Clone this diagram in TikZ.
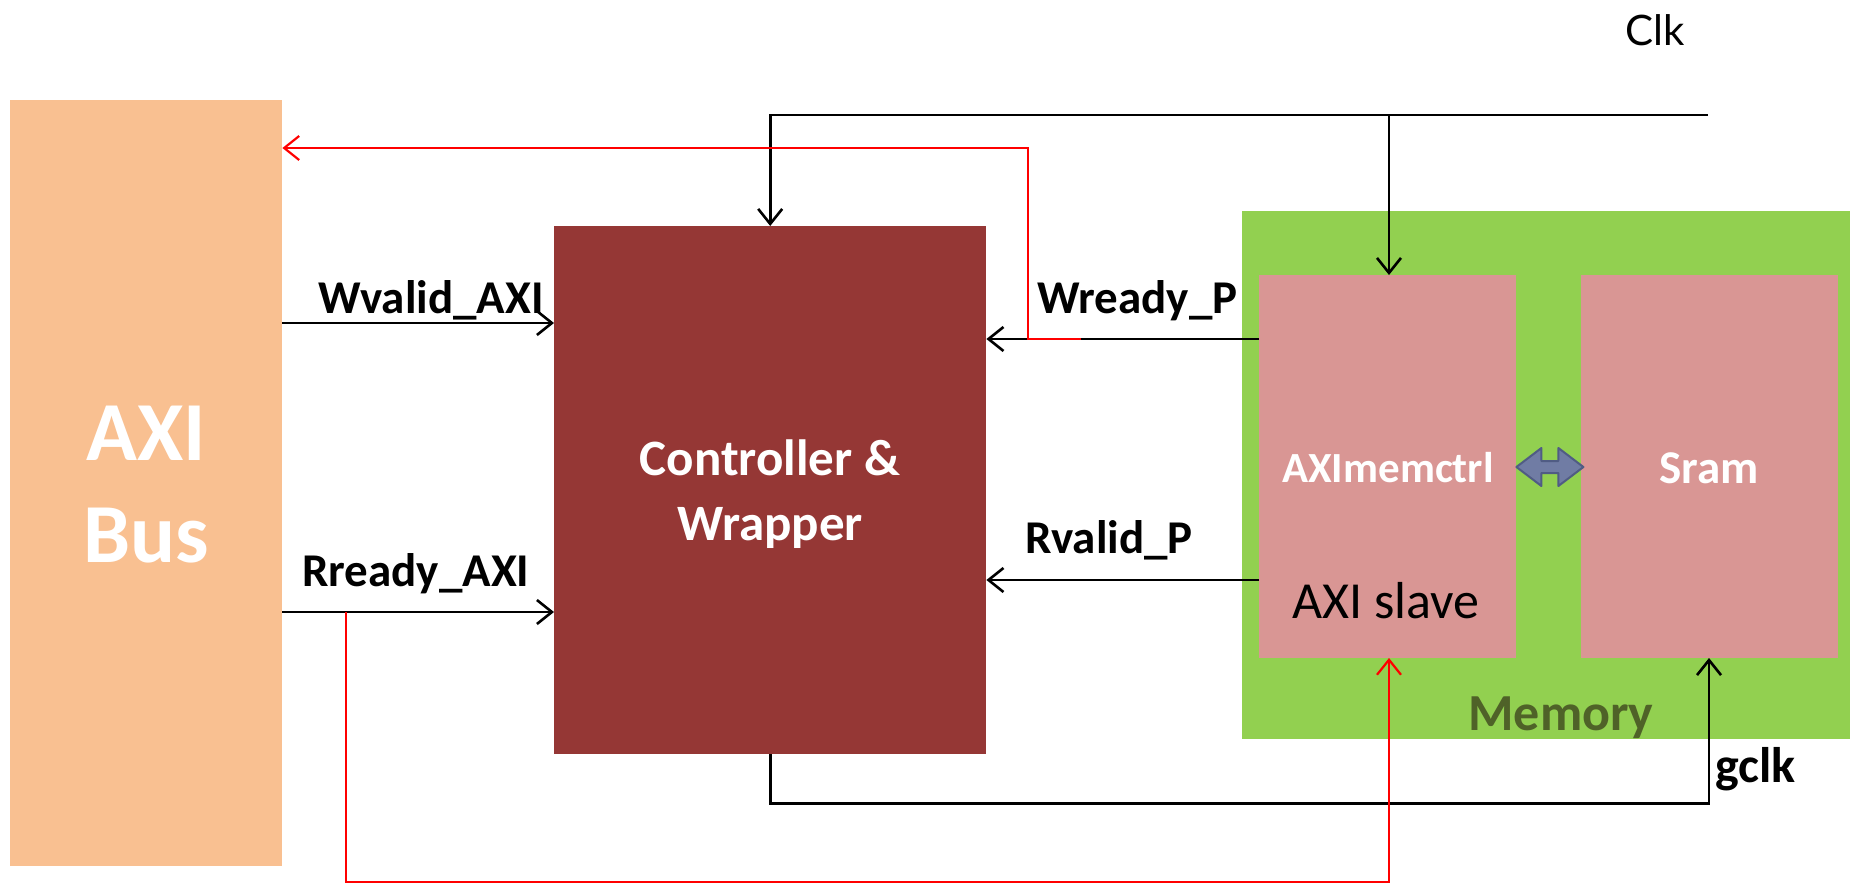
\documentclass[tikz,border=0pt]{standalone}
\usepackage{fontspec}
\setmainfont{Carlito}
\newfontfamily\clkfont{Lato}
\usetikzlibrary{arrows.meta,calc}
\definecolor{peach}{RGB}{249,192,145}
\definecolor{ctrlred}{RGB}{149,55,53}
\definecolor{memgreen}{RGB}{146,208,80}
\definecolor{pinkbox}{RGB}{217,150,148}
\definecolor{memtext}{RGB}{79,98,40}
\definecolor{dafill}{RGB}{112,124,164}
\definecolor{daline}{RGB}{80,92,132}
\definecolor{sigred}{RGB}{255,0,0}
\tikzset{
  blk/.style={rectangle, draw=none, inner sep=0pt, anchor=north west},
  wire/.style={line width=2.6pt, black},
  rwire/.style={line width=2.2pt, sigred},
  arr/.style={-{Straight Barb[length=15pt,width=24pt]}},
  lbl/.style={inner sep=0pt, anchor=base west, font=\fontsize{47}{50}\selectfont\bfseries},
  btxt/.style={inner sep=0pt, anchor=base, text=white},
}
\begin{document}
\begin{tikzpicture}[x=1pt,y=-1pt]
\useasboundingbox (0,0) rectangle (1856,884);
% blocks
\node[blk, fill=peach, minimum width=272pt, minimum height=766pt] (axi) at (10,100) {};
\node[blk, fill=ctrlred, minimum width=432pt, minimum height=528pt] (ctrl) at (554,226) {};
\node[blk, fill=memgreen, minimum width=608pt, minimum height=528pt] (mem) at (1242,211) {};
\node[blk, fill=pinkbox, minimum width=257pt, minimum height=383pt] (mc) at (1259,275) {};
\node[blk, fill=pinkbox, minimum width=257pt, minimum height=383pt] (sram) at (1581,275) {};
% block texts
\node[btxt, font=\fontsize{84}{90}\selectfont\bfseries] (taxi) at (146,460) {AXI};
\node[btxt, font=\fontsize{84}{90}\selectfont\bfseries] (tbus) at (146,562) {Bus};
\node[btxt, font=\fontsize{51}{55}\selectfont\bfseries] (tctrl) at (770,475) {Controller \&};
\node[btxt, font=\fontsize{51}{55}\selectfont\bfseries] (twrap) at (770,540) {Wrapper};
\node[btxt, font=\fontsize{43}{46}\selectfont\bfseries] (tmc) at (1388,482) {AXImemctrl};
\node[btxt, font=\fontsize{47}{50}\selectfont\bfseries] (tsram) at (1709,483) {Sram};
\node[btxt, text=black, font=\fontsize{52}{55}\selectfont] (tslave) at (1386,618) {AXI slave};
\node[btxt, text=memtext, font=\fontsize{52}{55}\selectfont\bfseries] (tmem) at (1561,730) {Memory};
\node[btxt, text=black, font=\fontsize{42}{45}\selectfont\clkfont] (tclk) at (1655,45) {Clk};
% signal labels
\node[lbl] (lwv) at (318,313) {Wvalid\_AXI};
\node[lbl] (lrr) at (302,586) {Rready\_AXI};
\node[lbl] (lwr) at (1037,313) {Wready\_P};
\node[lbl] (lrv) at (1025,553) {Rvalid\_P};
\node[lbl, font=\fontsize{50}{52}\selectfont\bfseries] (lgclk) at (1715,782) {gclk};
% double arrow between AXImemctrl and Sram
\draw[fill=dafill, draw=daline, line width=2pt, line join=round]
  ($(mc.east |- 0,467)$) -- ++(25,-19) -- ++(0,13) -- ++(17,0) -- ++(0,-13) -- ++(25,19)
  -- ++(-25,19) -- ++(0,-13) -- ++(-17,0) -- ++(0,13) -- cycle;
% coordinates
\coordinate (clkend) at (1708,115);
\coordinate (wtap) at (1081,339);
% clock
\draw[wire, arr] (clkend) -- (ctrl.north |- clkend) -- (ctrl.north);
\draw[wire, arr] (1389,115) -- (1389,275);
% gclk
\draw[wire, arr] (ctrl.south) -- ++(0,49) -| (1709,658);
% signals
\draw[wire, arr] (axi.east |- 0,323) -- (ctrl.west |- 0,323);
\draw[wire, arr] (axi.east |- 0,612) -- (ctrl.west |- 0,612);
\draw[wire, arr] (mc.west |- 0,339) -- (ctrl.east |- 0,339);
\draw[wire, arr] (mc.west |- 0,580) -- (ctrl.east |- 0,580);
% red feedback lines
\draw[rwire, arr] (wtap) -- (1028,339) -- (1028,148) -- (axi.east |- 0,148);
\draw[rwire, arr] (346,612) -- (346,882) -- (1389,882) -- (1389,658);
\end{tikzpicture}
\end{document}
